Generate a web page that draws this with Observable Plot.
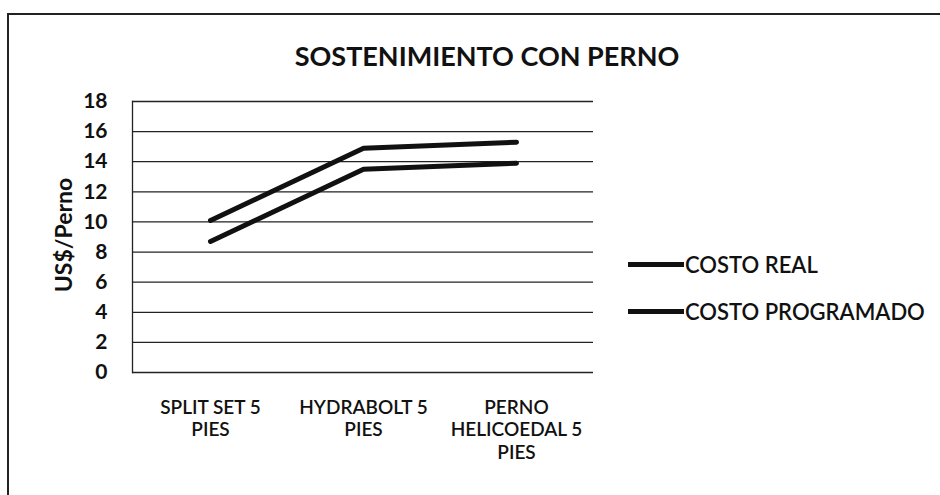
<!DOCTYPE html>
<html>
<head>
<meta charset="utf-8">
<script src="https://cdn.jsdelivr.net/npm/d3@7"></script>
<script src="https://cdn.jsdelivr.net/npm/@observablehq/plot@0.6"></script>
<style>
  html, body { margin: 0; padding: 0; background: #fff; }
  #wrap { position: relative; width: 940px; height: 495px; overflow: hidden; font-family: Lato, "Open Sans", sans-serif; color: #111; }
  #frame { position: absolute; left: 7px; top: 13px; width: 940px; height: 500px; border-top: 2px solid #222; border-left: 2px solid #222; box-sizing: border-box; }
  #title { position: absolute; left: 0; width: 974px; top: 39px; text-align: center; font-weight: 700; font-size: 27px; }
  #ylabel { position: absolute; left: 63px; top: 235px; transform: translate(-50%, -50%) rotate(-90deg); font-weight: 700; font-size: 23px; white-space: nowrap; }
  .leg { position: absolute; left: 628px; display: flex; align-items: center; font-size: 22px; font-weight: 600; white-space: nowrap; }
  .leg span.sw { display: inline-block; width: 56px; height: 5px; background: #111; margin-right: 1px; }
  #plot { position: absolute; left: 0; top: 0; }
</style>
</head>
<body>
<div id="wrap">
  <div id="plot"></div>
  <div id="frame"></div>
  <div id="title"></div>
  <div id="ylabel"></div>
  <div id="legend"></div>
</div>
<script>
const title = "SOSTENIMIENTO CON PERNO";
const yLabel = "US$/Perno";
const categories = ["SPLIT SET 5 PIES", "HYDRABOLT 5 PIES", "PERNO HELICOEDAL 5 PIES"];
const tickLabels = ["SPLIT SET 5\nPIES", "HYDRABOLT 5\nPIES", "PERNO\nHELICOEDAL 5\nPIES"];
const seriesNames = ["COSTO REAL", "COSTO PROGRAMADO"];
const costoReal = [10.1, 14.9, 15.3];
const costoProgramado = [8.7, 13.5, 13.9];
const yTicks = [0, 2, 4, 6, 8, 10, 12, 14, 16, 18];

const rows = [];
categories.forEach((c, i) => {
  rows.push({cat: c, value: costoReal[i], serie: seriesNames[0]});
  rows.push({cat: c, value: costoProgramado[i], serie: seriesNames[1]});
});

const chart = Plot.plot({
  width: 940,
  height: 495,
  marginLeft: 132,
  marginRight: 347,
  marginTop: 101,
  marginBottom: 123,
  style: {fontFamily: "Lato, 'Open Sans', sans-serif", color: "#111", background: "transparent"},
  x: {type: "point", domain: categories, padding: 0.5},
  y: {domain: [0, 18]},
  marks: [
    Plot.ruleY(yTicks, {stroke: "#222", strokeWidth: 1.3}),
    Plot.frame({anchor: "left", stroke: "#222", strokeWidth: 1.3}),
    Plot.axisY({ticks: yTicks, tickSize: 0, tickPadding: 25, label: null, fontSize: 21, fontWeight: 700}),
    Plot.axisX({tickSize: 0, tickPadding: 25, label: null, fontSize: 19, fontWeight: 600, lineHeight: 1.2,
      tickFormat: (d) => tickLabels[categories.indexOf(d)]}),
    Plot.line(rows, {x: "cat", y: "value", z: "serie", stroke: "#111", strokeWidth: 5, strokeLinecap: "round", strokeLinejoin: "round"})
  ]
});
document.getElementById("plot").appendChild(chart);
document.getElementById("title").textContent = title;
document.getElementById("ylabel").textContent = yLabel;
const legend = document.getElementById("legend");
const legTops = [251, 298];
seriesNames.forEach((s, i) => {
  const d = document.createElement("div");
  d.className = "leg";
  d.style.top = legTops[i] + "px";
  d.innerHTML = '<span class="sw"></span>';
  d.appendChild(document.createTextNode(s));
  legend.appendChild(d);
});
</script>
</body>
</html>
